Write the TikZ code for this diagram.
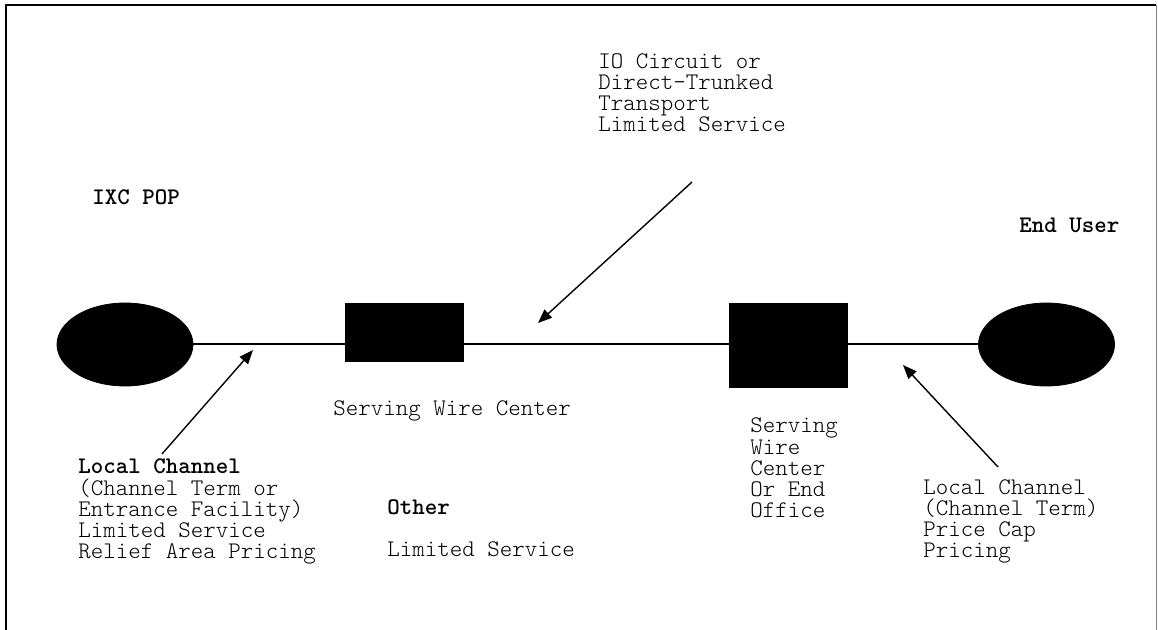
\documentclass[tikz,border=0pt]{standalone}
\usepackage{fontspec}
\setmonofont{Latin Modern Mono Light}
\usetikzlibrary{shapes.geometric,arrows.meta}

\begin{document}
\begin{tikzpicture}[x=0.5pt,y=-0.5pt,
   site/.style={draw,ellipse,fill=black,inner sep=0pt,minimum width=68pt,minimum height=41.5pt},
   office/.style={draw,rectangle,fill=black,inner sep=0pt,minimum width=59pt},
   note/.style={font=\ttfamily\fontsize{11.9}{10.65}\selectfont,align=left,inner sep=0pt,anchor=base west},
   pointer/.style={-{Triangle[length=7pt,width=5.5pt]},line width=0.7pt}]
\useasboundingbox (0,0) rectangle (1158,630);
% frame
\draw[line width=1pt] (6,630) -- (6,5) -- (1156,5);
\draw[gray,line width=0.5pt] (1156,5) -- (1156,630);

\node[site] (ixc) at (125,344.5) {};
\node[site] (user) at (1046.5,344.5) {};
\draw[line width=1pt] (ixc) -- (user);
\node[office,minimum height=29pt] (swc) at (404,332) {};
\node[office,minimum height=42pt] (eo) at (788,345) {};

% labels (multi-line ones sit on their last baseline)
\node[note] (ixclbl) at (92,205) {\textbf{IXC POP}};
\node[note] (userlbl) at (1019,233) {\textbf{End User}};
\node[note] (swclbl) at (333,416) {Serving Wire Center};
\node[note] (eolbl) at (750,518) {Serving\\Wire\\Center\\Or End\\Office};
\node[note] (iolbl) at (598,132) {IO Circuit or\\Direct-Trunked\\Transport\\Limited Service};
\node[note] (lcl) at (78,559) {\textbf{Local Channel}\\(Channel Term or\\Entrance Facility)\\Limited Service\\Relief Area Pricing};
\node[note] (other) at (387,557) {\textbf{Other}\\[10.65pt]Limited Service};
\node[note] (lcr) at (923,558) {Local Channel\\(Channel Term)\\Price Cap\\Pricing};

% pointers
\coordinate (lclfrom) at (162,454);
\coordinate (lclto) at (253,350);
\coordinate (iofrom) at (692,182);
\coordinate (ioto) at (538,323);
\coordinate (lcrfrom) at (998,467);
\coordinate (lcrto) at (903,365);
\draw[pointer] (lclfrom) -- (lclto);
\draw[pointer] (iofrom) -- (ioto);
\draw[pointer] (lcrfrom) -- (lcrto);
\end{tikzpicture}
\end{document}
